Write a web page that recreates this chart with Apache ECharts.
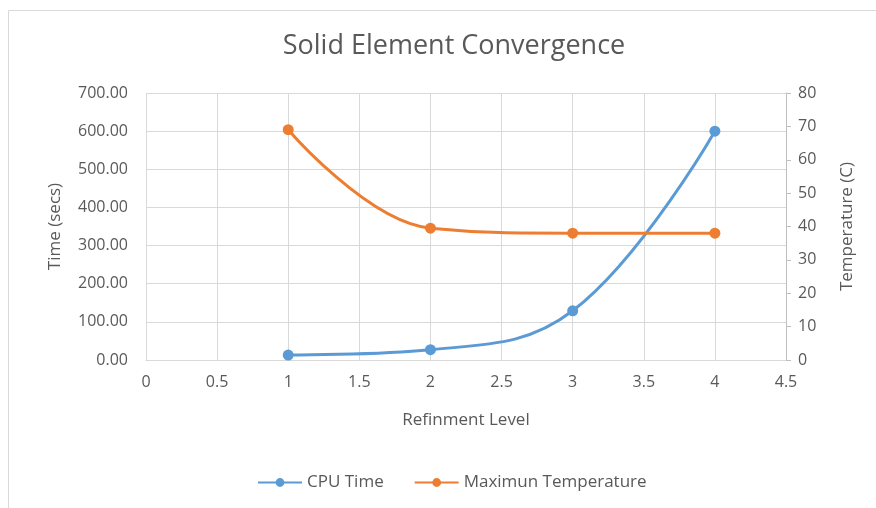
<!DOCTYPE html>
<html>
<head>
<meta charset="utf-8">
<script src="https://cdn.jsdelivr.net/npm/echarts@6/dist/echarts.min.js"></script>
<style>
  html, body { margin: 0; padding: 0; background: #ffffff; }
  #chart { width: 876px; height: 508px; }
</style>
</head>
<body>
<div id="chart"></div>
<script>
// Refinement levels and the measured results at each level
const refinementLevels = [1, 2, 3, 4];
const cpuTimeSecs = [13, 27, 129, 600];
const maxTemperatureC = [69, 39.5, 38, 38];

const textColor = '#595959';
const gridColor = '#d9d9d9';
const fontFamily = '"Open Sans", "Noto Sans", sans-serif';

const chart = echarts.init(document.getElementById('chart'), null, { renderer: 'canvas' });

chart.setOption({
  backgroundColor: '#ffffff',
  animation: false,
  textStyle: { fontFamily: fontFamily, color: textColor },
  graphic: [{
    type: 'rect',
    shape: { x: 8.5, y: 10.5, width: 900, height: 520 },
    style: { fill: 'none', stroke: '#d9d9d9', lineWidth: 1 },
    silent: true
  }],
  title: {
    text: 'Solid Element Convergence',
    left: 449,
    textAlign: 'center',
    top: 28,
    textStyle: { fontFamily: fontFamily, fontSize: 27, fontWeight: 'normal', color: textColor }
  },
  legend: {
    top: 469,
    left: 252,
    itemGap: 30,
    itemWidth: 44,
    itemHeight: 11,
    textStyle: { fontFamily: fontFamily, fontSize: 17, color: textColor },
    data: ['CPU Time', 'Maximun Temperature']
  },
  grid: { left: 146, right: 90, top: 93, bottom: 148, containLabel: false },
  xAxis: {
    type: 'value',
    min: 0,
    max: 4.5,
    interval: 0.5,
    name: 'Refinment Level',
    nameLocation: 'middle',
    nameGap: 52,
    nameTextStyle: { fontFamily: fontFamily, fontSize: 17, color: textColor },
    axisLine: { show: true, lineStyle: { color: gridColor, width: 1 } },
    axisTick: { show: false },
    axisLabel: { color: textColor, fontSize: 16, margin: 14, fontFamily: fontFamily },
    splitLine: { show: true, lineStyle: { color: gridColor, width: 1 } }
  },
  yAxis: [{
    type: 'value',
    min: 0,
    max: 700,
    interval: 100,
    position: 'left',
    name: 'Time (secs)',
    nameLocation: 'middle',
    nameGap: 82,
    nameRotate: 90,
    nameTextStyle: { fontFamily: fontFamily, fontSize: 17, color: textColor },
    axisLine: { show: false },
    axisTick: { show: false },
    axisLabel: {
      color: textColor, fontSize: 16, margin: 18, fontFamily: fontFamily,
      formatter: v => v.toFixed(2)
    },
    splitLine: { show: true, lineStyle: { color: gridColor, width: 1 } }
  }, {
    type: 'value',
    min: 0,
    max: 80,
    interval: 10,
    position: 'right',
    name: 'Temperature (C)',
    nameLocation: 'middle',
    nameGap: 53,
    nameRotate: 90,
    nameTextStyle: { fontFamily: fontFamily, fontSize: 17, color: textColor },
    axisLine: { show: true, lineStyle: { color: '#bfbfbf', width: 1 } },
    axisTick: { show: true, length: 5, inside: false, lineStyle: { color: '#bfbfbf' } },
    axisLabel: { color: textColor, fontSize: 16, margin: 12, fontFamily: fontFamily },
    splitLine: { show: false }
  }],
  series: [{
    name: 'CPU Time',
    type: 'line',
    yAxisIndex: 0,
    smooth: 0.4,
    symbol: 'circle',
    symbolSize: 11,
    data: refinementLevels.map((x, i) => [x, cpuTimeSecs[i]]),
    itemStyle: { color: '#5b9bd5' },
    lineStyle: { color: '#5b9bd5', width: 3 }
  }, {
    name: 'Maximun Temperature',
    type: 'line',
    yAxisIndex: 1,
    smooth: 0.4,
    symbol: 'circle',
    symbolSize: 11,
    data: refinementLevels.map((x, i) => [x, maxTemperatureC[i]]),
    itemStyle: { color: '#ed7d31' },
    lineStyle: { color: '#ed7d31', width: 3 }
  }]
});
</script>
</body>
</html>
